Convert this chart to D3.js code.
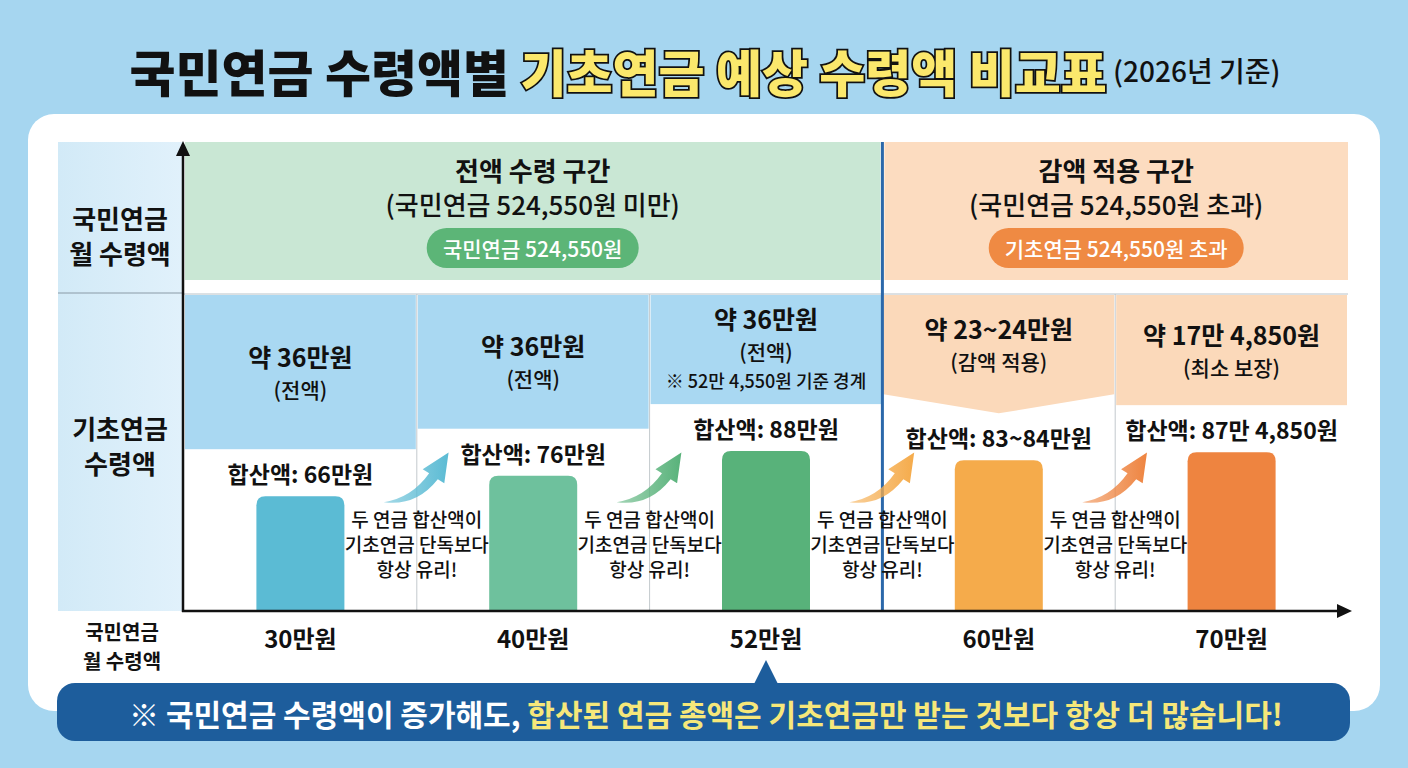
<!DOCTYPE html>
<html>
<head>
<meta charset="utf-8">
<script src="https://cdn.jsdelivr.net/npm/d3@7"></script>
<style>
  body { margin: 0; background: #a6d6f0; }
  svg { display: block; font-family: "Noto Sans CJK KR", "Noto Sans", sans-serif; }
</style>
</head>
<body>
<div id="chart"></div>
<script>
// data
const categories = ["30만원", "40만원", "52만원", "60만원", "70만원"];
const pensionValues = [30, 40, 52, 60, 70];            // 국민연금 월 수령액 (만원)
const totalValues = [66, 76, 88, 83.5, 87.485];          // 합산액 (만원)
const totalLabels = ["합산액: 66만원", "합산액: 76만원", "합산액: 88만원", "합산액: 83~84만원", "합산액: 87만 4,850원"];
const basicLabels = ["약 36만원", "약 36만원", "약 36만원", "약 23~24만원", "약 17만 4,850원"];
const basicNotes = ["(전액)", "(전액)", "(전액)", "(감액 적용)", "(최소 보장)"];
const extraNotes = ["", "", "※ 52만 4,550원 기준 경계", "", ""];
const threshold = 52.455;
const zoneTitles = ["전액 수령 구간", "감액 적용 구간"];
const zoneSubs = ["(국민연금 524,550원 미만)", "(국민연금 524,550원 초과)"];
const zonePills = ["국민연금 524,550원", "기초연금 524,550원 초과"];
const midNote = ["두 연금 합산액이", "기초연금 단독보다", "항상 유리!"];

const barColors = ["#5bbbd4", "#6ec19d", "#58b27a", "#f5ab4b", "#ee8440"];

const W = 1408, H = 768;
const svg = d3.select("#chart").append("svg").attr("width", W).attr("height", H);
const defs = svg.append("defs");

// title
const title = svg.append("text")
  .attr("x", 705).attr("y", 70)
  .attr("text-anchor", "middle").attr("dominant-baseline", "central")
  .style("font-weight", 900);
title.append("tspan").text("국민연금 수령액별 ").style("font-size", "50px").style("fill", "#111");
title.append("tspan").text("기초연금 예상 수령액 비교표")
  .style("font-size", "50px").style("fill", "#fbe86c")
  .style("stroke", "#111").style("stroke-width", 3.5).style("paint-order", "stroke");
title.append("tspan").text(" (2026년 기준)").style("font-size", "28px").style("font-weight", 500).style("fill", "#111");

// white card
svg.append("rect").attr("x", 28).attr("y", 114).attr("width", 1352).attr("height", 597)
  .attr("rx", 26).style("fill", "#fff");

// scales
const plotL = 184, plotR = 1348, topY = 142, bandBot = 280, rowTop = 294, base = 611;
const x = d3.scaleBand().domain(categories).range([plotL, plotR]).padding(0);
const y = d3.scaleLinear().domain([10, 100]).range([base, base - 2.05 * 90]);

const isFull = pensionValues.map(v => v < threshold);
const splitX = x(categories[isFull.lastIndexOf(true)]) + x.bandwidth();

// left label column
const lg = defs.append("linearGradient").attr("id", "lcol").attr("x1", 0).attr("x2", 1);
lg.append("stop").attr("offset", 0).attr("stop-color", "#d2eaf7");
lg.append("stop").attr("offset", 1).attr("stop-color", "#e1f1fb");
svg.append("rect").attr("x", 58).attr("y", topY).attr("width", plotL - 58).attr("height", base - topY)
  .style("fill", "url(#lcol)");
svg.append("line").attr("x1", 58).attr("x2", plotL).attr("y1", rowTop - 1).attr("y2", rowTop - 1)
  .style("stroke", "#8a9aa6").style("stroke-width", 1);

// one text element per line
function multiline(g, lines, cx, cy, gap, size, weight, color) {
  lines.forEach((l, i) => {
    g.append("text").attr("text-anchor", "middle").attr("dominant-baseline", "central")
      .attr("x", cx).attr("y", cy + (i - (lines.length - 1) / 2) * gap)
      .style("font-size", size + "px").style("font-weight", weight).style("fill", color || "#111")
      .text(l);
  });
}
multiline(svg, ["국민연금", "월 수령액"], 120, 235, 35, 26, 700);
multiline(svg, ["기초연금", "수령액"], 120, 445, 35, 26, 700);
multiline(svg, ["국민연금", "월 수령액"], 122, 646, 29, 20, 700);

// zone bands
const zones = [
  {x0: plotL + 1, x1: splitX - 2, fill: "#c9e7d4", pill: "#5cb577", pw: 212},
  {x0: splitX + 2, x1: plotR, fill: "#fcdcc0", pill: "#ef8a43", pw: 255}
];
zones.forEach((z, i) => {
  svg.append("rect").attr("x", z.x0).attr("y", topY).attr("width", z.x1 - z.x0).attr("height", bandBot - topY)
    .style("fill", z.fill);
  const cx = (z.x0 + z.x1) / 2;
  svg.append("text").attr("x", cx).attr("y", 169).attr("text-anchor", "middle").attr("dominant-baseline", "central")
    .style("font-size", "26px").style("font-weight", 700).style("fill", "#111").text(zoneTitles[i]);
  svg.append("text").attr("x", cx).attr("y", 203).attr("text-anchor", "middle").attr("dominant-baseline", "central")
    .style("font-size", "26px").style("font-weight", 500).style("fill", "#111").text(zoneSubs[i]);
  svg.append("rect").attr("x", cx - z.pw / 2).attr("y", 228).attr("width", z.pw).attr("height", 40)
    .attr("rx", 20).style("fill", z.pill);
  svg.append("text").attr("x", cx).attr("y", 248).attr("text-anchor", "middle").attr("dominant-baseline", "central")
    .style("font-size", "21px").style("font-weight", 500).style("fill", "#fff").text(zonePills[i]);
});

// row 2 grid
svg.append("line").attr("x1", plotL).attr("x2", plotR).attr("y1", rowTop).attr("y2", rowTop)
  .style("stroke", "#b8c2c8").style("stroke-width", 1);
categories.slice(1).forEach(c => {
  if (Math.abs(x(c) - splitX) < 1) return;
  svg.append("line").attr("x1", x(c)).attr("x2", x(c)).attr("y1", rowTop).attr("y2", base)
    .style("stroke", "#c3c9cd").style("stroke-width", 1);
});

// header boxes for 기초연금 amount
categories.forEach((c, i) => {
  const x0 = x(c) + 1, x1 = x(c) + x.bandwidth() - 1;
  const labelY = y(totalValues[i]) - 23;
  const boxBot = labelY - 24;
  let midY;
  if (isFull[i]) {
    svg.append("rect").attr("x", x0).attr("y", rowTop + 1).attr("width", x1 - x0).attr("height", boxBot - rowTop - 1)
      .style("fill", "#a9d8f2");
    midY = (rowTop + boxBot) / 2;
  } else if (i === isFull.lastIndexOf(true) + 1) {
    const side = boxBot - 19;
    svg.append("path")
      .attr("d", `M${x0},${rowTop + 1}L${x1},${rowTop + 1}L${x1},${side}L${(x0 + x1) / 2},${boxBot}L${x0},${side}Z`)
      .style("fill", "#fbd9ba");
    midY = (rowTop + side) / 2;
  } else {
    svg.append("rect").attr("x", x0).attr("y", rowTop + 1).attr("width", x1 - x0).attr("height", boxBot - rowTop - 1)
      .style("fill", "#fbd9ba");
    midY = (rowTop + boxBot) / 2;
  }
  const cx = x(c) + x.bandwidth() / 2;
  if (extraNotes[i]) {
    svg.append("text").attr("x", cx).attr("y", midY - 31).attr("text-anchor", "middle").attr("dominant-baseline", "central")
      .style("font-size", "25px").style("font-weight", 700).style("fill", "#111").text(basicLabels[i]);
    svg.append("text").attr("x", cx).attr("y", midY + 2).attr("text-anchor", "middle").attr("dominant-baseline", "central")
      .style("font-size", "21px").style("font-weight", 500).style("fill", "#111").text(basicNotes[i]);
    svg.append("text").attr("x", cx).attr("y", midY + 31).attr("text-anchor", "middle").attr("dominant-baseline", "central")
      .style("font-size", "18px").style("font-weight", 500).style("fill", "#111").text(extraNotes[i]);
  } else {
    svg.append("text").attr("x", cx).attr("y", midY - 16).attr("text-anchor", "middle").attr("dominant-baseline", "central")
      .style("font-size", "25px").style("font-weight", 700).style("fill", "#111").text(basicLabels[i]);
    svg.append("text").attr("x", cx).attr("y", midY + 17).attr("text-anchor", "middle").attr("dominant-baseline", "central")
      .style("font-size", "21px").style("font-weight", 500).style("fill", "#111").text(basicNotes[i]);
  }
});

// bars with rounded tops
const bw = 88;
svg.selectAll(".bar").data(totalValues).join("path")
  .attr("class", "bar")
  .attr("d", (d, i) => {
    const cx = x(categories[i]) + x.bandwidth() / 2, x0 = cx - bw / 2, x1 = cx + bw / 2, t = y(d), r = 9;
    return `M${x0},${base}L${x0},${t + r}Q${x0},${t} ${x0 + r},${t}L${x1 - r},${t}Q${x1},${t} ${x1},${t + r}L${x1},${base}Z`;
  })
  .style("fill", (d, i) => barColors[i]);

svg.selectAll(".tot").data(totalValues).join("text")
  .attr("class", "tot")
  .attr("x", (d, i) => x(categories[i]) + x.bandwidth() / 2)
  .attr("y", d => y(d) - 23)
  .attr("text-anchor", "middle").attr("dominant-baseline", "central")
  .style("font-size", "23px").style("font-weight", 700).style("fill", "#111")
  .text((d, i) => totalLabels[i]);

// split line
svg.append("line").attr("x1", splitX).attr("x2", splitX).attr("y1", topY).attr("y2", base)
  .style("stroke", "#2b68aa").style("stroke-width", 3);

// curved arrows + notes between columns
const arrowPath = "M0,2Q26,-2 42,-24.7L36,-28.5L60,-44L56,-15.5L50,-19.3Q30,6 0,2Z";
const arrowColors = [barColors[0], barColors[2], barColors[3], barColors[4]];
categories.slice(1).forEach((c, i) => {
  const bx = x(c);
  const gid = "ag" + i;
  const g = defs.append("linearGradient").attr("id", gid).attr("x1", 0).attr("x2", 1);
  g.append("stop").attr("offset", 0).attr("stop-color", arrowColors[i]).attr("stop-opacity", 0.55);
  g.append("stop").attr("offset", 1).attr("stop-color", arrowColors[i]);
  svg.append("path").attr("d", arrowPath)
    .attr("transform", `translate(${bx - 33},${500}) scale(1.08)`)
    .style("fill", `url(#${gid})`);
  multiline(svg, midNote, bx, 543, 25, 19, 500);
});

// axes
const axisStyle = sel => sel.style("stroke", "#111").style("stroke-width", 2.5);
svg.append("line").attr("x1", plotL - 1).attr("x2", plotL - 1).attr("y1", base + 1).attr("y2", topY + 10).call(axisStyle);
svg.append("path").attr("d", `M${plotL - 1},${topY - 1}L${plotL - 8},${topY + 14}L${plotL + 6},${topY + 14}Z`).style("fill", "#111");
svg.append("line").attr("x1", plotL - 2).attr("x2", 1340).attr("y1", base).attr("y2", base).call(axisStyle);
svg.append("path").attr("d", `M1352,${base}L1337,${base - 7}L1337,${base + 7}Z`).style("fill", "#111");

svg.selectAll(".xl").data(categories).join("text")
  .attr("class", "xl")
  .attr("x", d => x(d) + x.bandwidth() / 2).attr("y", 637)
  .attr("text-anchor", "middle").attr("dominant-baseline", "central")
  .style("font-size", "24px").style("font-weight", 700).style("fill", "#111")
  .text(d => d);

// bottom callout
const px = x(categories[isFull.lastIndexOf(true)]) + x.bandwidth() / 2;
svg.append("path").attr("d", `M${px},660L${px + 13},686L${px - 13},686Z`).style("fill", "#1d5d9c");
svg.append("rect").attr("x", 57).attr("y", 683).attr("width", 1293).attr("height", 58).attr("rx", 18)
  .style("fill", "#1d5d9c");
const note = svg.append("text").attr("x", 706).attr("y", 713)
  .attr("text-anchor", "middle").attr("dominant-baseline", "central")
  .style("font-size", "30px").style("font-weight", 700);
note.append("tspan").text("※ 국민연금 수령액이 증가해도, ").style("fill", "#fff");
note.append("tspan").text("합산된 연금 총액은 기초연금만 받는 것보다 항상 더 많습니다!").style("fill", "#f6e77a");
</script>
</body>
</html>
